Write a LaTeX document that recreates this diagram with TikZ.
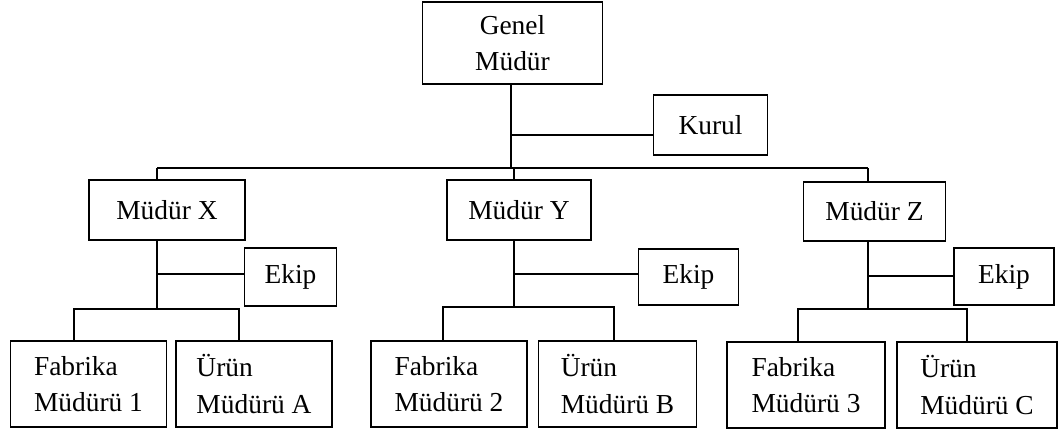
\documentclass[tikz,border=0pt]{standalone}
\usepackage{fontspec}
\setmainfont{Liberation Serif}
\usetikzlibrary{positioning}

\begin{document}
\begin{tikzpicture}[x=0.025cm, y=-0.025cm,
    font=\fontsize{19.5}{26}\selectfont,
    box/.style={draw, line width=1.2pt, align=left, inner sep=2pt},
    link/.style={line width=1.2pt}]
		%%%%% START %%%%%
		\useasboundingbox (0,0) rectangle (1059,434);
		
		% top
		\node[box, align=center, minimum width=4.5cm, minimum height=2.05cm] (genel) at (512.5,43) {Genel\\Müdür};
		\node[box, minimum width=2.85cm, minimum height=1.5cm] (kurul) at (710.5,125) {Kurul};
		
		% middle managers
		\node[box, minimum width=3.9cm, minimum height=1.5cm] (mx) at (167,210) {Müdür X};
		\node[box, minimum width=3.6cm, minimum height=1.5cm] (my) at (519,210) {Müdür Y};
		\node[box, minimum width=3.55cm, minimum height=1.48cm] (mz) at (874.5,211.5) {Müdür Z};
		
		% teams
		\node[box, minimum width=2.3cm, minimum height=1.45cm] (ekx) at (290.5,277) {Ekip};
		\node[box, minimum width=2.5cm, minimum height=1.4cm] (eky) at (688.5,277) {Ekip};
		\node[box, minimum width=2.5cm, minimum height=1.42cm] (ekz) at (1004,276.5) {Ekip};
		
		% bottom row
		\node[box, minimum width=3.9cm, minimum height=2.15cm] (f1) at (88.5,384) {Fabrika\\Müdürü 1};
		\node[box, minimum width=3.9cm, minimum height=2.15cm] (ua) at (254,384) {Ürün\\Müdürü A};
		\node[box, minimum width=3.9cm, minimum height=2.15cm] (f2) at (449,384) {Fabrika\\Müdürü 2};
		\node[box, minimum width=3.95cm, minimum height=2.15cm] (ub) at (617.5,384) {Ürün\\Müdürü B};
		\node[box, minimum width=3.95cm, minimum height=2.15cm] (f3) at (806,385) {Fabrika\\Müdürü 3};
		\node[box, minimum width=4cm, minimum height=2.15cm] (uc) at (977,385) {Ürün\\Müdürü C};
		
		% main bar
		\coordinate (jg) at (511,168);
		\coordinate (kg) at (511,135);
		\draw[link] (jg |- genel.south) -- (jg);
		\draw[link] (kg) -- (kg -| kurul.west);
		\draw[link] (157,168) -- (868,168);
		
		\foreach \m/\e/\x/\ey/\by/\l/\r/\f/\u in {mx/ekx/157/274/309/74/239/f1/ua, my/eky/514/274/307/443/614/f2/ub, mz/ekz/868/276/309/798/967/f3/uc}{
			\coordinate (top\m) at (\x,168);
			\coordinate (mid\m) at (\x,\ey);
			\coordinate (bot\m) at (\x,\by);
			\coordinate (left\m) at (\l,\by);
			\coordinate (right\m) at (\r,\by);
			\draw[link] (top\m) -- (top\m |- \m.north);
			\draw[link] (bot\m |- \m.south) -- (bot\m);
			\draw[link] (mid\m) -- (mid\m -| \e.west);
			\draw[link] (left\m |- \f.north) -- (left\m) -- (right\m) -- (right\m |- \u.north);
		}
		%%%%% END %%%%%
\end{tikzpicture}
\end{document}
